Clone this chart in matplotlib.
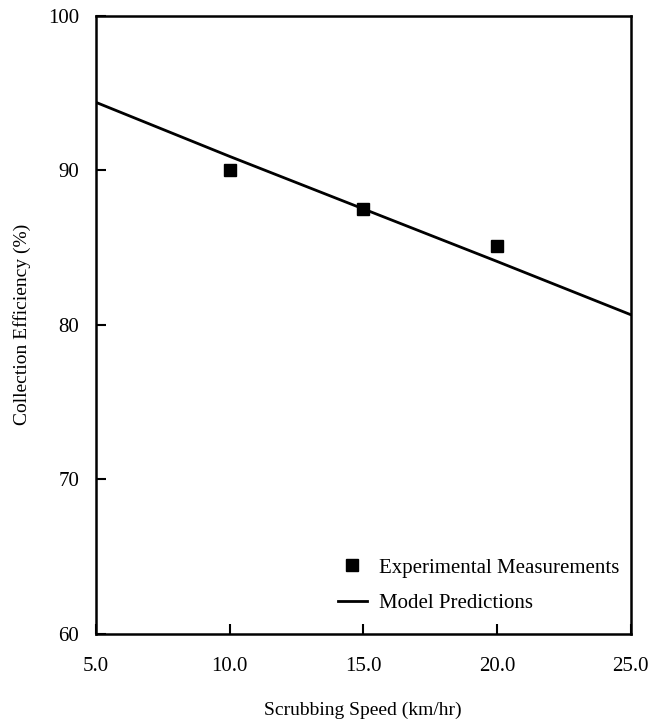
import matplotlib.pyplot as plt

plt.rcParams['font.family'] = ['Liberation Serif', 'DejaVu Serif']

# model predictions
speed_model = [5.0, 10.0, 15.0, 20.0, 25.0]
eff_model = [94.4, 90.9, 87.5, 84.1, 80.65]

# experimental measurements
speed_exp = [10.0, 15.0, 20.0]
eff_exp = [90.0, 87.5, 85.1]

fig = plt.figure(figsize=(6.66, 7.2), dpi=100)
ax = fig.add_axes([0.144, 0.12, 0.803, 0.858])

ax.plot(speed_exp, eff_exp, 's', color='black', markersize=8,
        linestyle='none', label='Experimental Measurements')
ax.plot(speed_model, eff_model, '-', color='black', linewidth=2,
        label='Model Predictions')

ax.set_xlim(5, 25)
ax.set_ylim(60, 100)
ax.set_xticks([5, 10, 15, 20, 25])
ax.set_xticklabels(['5.0', '10.0', '15.0', '20.0', '25.0'])
ax.set_yticks([60, 70, 80, 90, 100])
ax.tick_params(direction='in', length=7, width=1.5, labelsize=15)
ax.tick_params(axis='x', pad=17)
ax.tick_params(axis='y', pad=12)
for s in ax.spines.values():
    s.set_linewidth(1.8)

ax.set_xlabel('Scrubbing Speed (km/hr)', fontsize=14, labelpad=18)
ax.set_ylabel('Collection Efficiency (%)', fontsize=14, labelpad=12)

ax.legend(loc='lower right', bbox_to_anchor=(0.995, 0.02), frameon=False,
          fontsize=15, handlelength=1.4, handletextpad=0.6,
          borderaxespad=0, labelspacing=0.75)

plt.savefig('out.png', dpi=100)
